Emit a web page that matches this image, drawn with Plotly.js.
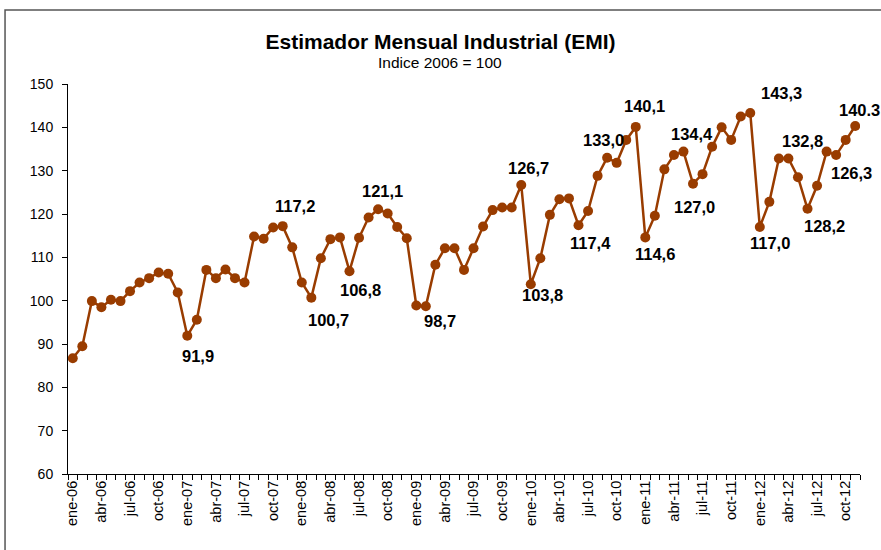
<!DOCTYPE html>
<html>
<head>
<meta charset="utf-8">
<script src="https://cdn.plot.ly/plotly-3.0.1.min.js"></script>
<style>html,body{margin:0;padding:0;background:#fff;}#chart{width:881px;height:550px;}</style>
</head>
<body>
<div id="chart"></div>
<script>
// ---- data ----
const monthNames = ["ene","feb","mar","abr","may","jun","jul","ago","sep","oct","nov","dic"];
const years = ["06","07","08","09","10","11","12"];
const emiValues = [
  86.7, 89.5, 99.9, 98.5, 100.2, 99.9, 102.2, 104.2, 105.2, 106.5, 106.2, 101.9,
  91.9, 95.6, 107.1, 105.2, 107.2, 105.2, 104.2, 114.8, 114.3, 116.9, 117.2, 112.3,
  104.2, 100.7, 109.8, 114.2, 114.6, 106.8, 114.5, 119.2, 121.1, 120.1, 117.0, 114.4,
  98.9, 98.7, 108.3, 112.1, 112.1, 107.1, 112.1, 117.1, 120.9, 121.5, 121.5, 126.7,
  103.8, 109.8, 119.8, 123.4, 123.6, 117.4, 120.7, 128.8, 133.0, 131.8, 137.1, 140.1,
  114.6, 119.6, 130.3, 133.6, 134.4, 127.0, 129.2, 135.5, 140.0, 137.1, 142.5, 143.3,
  117.0, 122.8, 132.8, 132.8, 128.5, 121.2, 126.5, 134.4, 133.6, 137.1, 140.3
];
const labelIndex = [12, 22, 25, 29, 32, 37, 47, 48, 53, 56, 59, 60, 64, 65, 71, 72, 75, 77, 80, 82];
const labelText  = ["91,9","117,2","100,7","106,8","121,1","98,7","126,7","103,8","117,4","133,0",
                    "140,1","114,6","134,4","127,0","143,3","117,0","132,8","128,2","126,3","140.3"];
const yTickVals = [60, 70, 80, 90, 100, 110, 120, 130, 140, 150];

// ---- layout tuning (pixel offsets of the data labels) ----
const labelOffsets = [[11,20],[12,-20],[17,22],[11,19],[4,-18],[14,15],[7,-17],[12,11],[12,18],[-4,-18],
                      [9,-21],[10,17],[9,-18],[1,23],[31,-20],[10,16],[14,-18],[17,17],[15,18],[4,-16]];

const categories = [];
years.forEach(y => monthNames.forEach(m => categories.push(m + "-" + y)));
const cats = categories.slice(0, emiValues.length);
const tickText = cats.map((c, i) => (i % 3 === 0 ? c : ""));

const color = "#993c00";
const FONT = "Arial, Liberation Sans, sans-serif";
const trace = {
  x: cats, y: emiValues, type: "scatter", mode: "lines+markers",
  line: {color: color, width: 2.5},
  marker: {color: color, size: 10, line: {width: 0}},
  hoverinfo: "x+y"
};

const annotations = labelIndex.map((idx, k) => ({
  x: cats[idx], y: emiValues[idx], xref: "x", yref: "y",
  text: labelText[k], showarrow: false,
  xanchor: "center", yanchor: "middle",
  xshift: labelOffsets[k][0], yshift: -labelOffsets[k][1],
  font: {family: FONT, size: 16.5, color: "#000", weight: "bold"}
}));
annotations.push({
  xref: "paper", yref: "paper", x: 0.47, y: 1.054, xanchor: "center", yanchor: "middle",
  text: "Indice 2006 = 100", showarrow: false,
  font: {family: FONT, size: 15.5, color: "#000"}
});

const layout = {
  width: 881, height: 550,
  margin: {l: 68, r: 21, t: 84, b: 76},
  paper_bgcolor: "#fff", plot_bgcolor: "#fff",
  showlegend: false,
  font: {family: FONT, color: "#000"},
  title: {
    text: "<b>Estimador Mensual Industrial (EMI)</b>",
    x: 0.5, xref: "container", xanchor: "center",
    y: 0.924, yref: "container", yanchor: "middle",
    font: {family: FONT, size: 21, color: "#000"}
  },
  xaxis: {
    type: "category",
    tickmode: "array", tickvals: cats, ticktext: tickText,
    tickson: "boundaries",
    ticks: "outside", ticklen: 5, tickcolor: "#000", tickwidth: 1,
    tickangle: -90,
    tickfont: {size: 14.5, color: "#000"},
    showline: true, linecolor: "#000", linewidth: 1,
    showgrid: false, zeroline: false,
    range: [-0.5, cats.length - 0.5]
  },
  yaxis: {
    range: [60, 150], tickmode: "array", tickvals: yTickVals,
    ticks: "outside", ticklen: 5, tickcolor: "#000", tickwidth: 1,
    ticklabelstandoff: 6,
    tickfont: {size: 14, color: "#000"},
    showline: true, linecolor: "#000", linewidth: 1,
    showgrid: false, zeroline: false
  },
  annotations: annotations,
  shapes: [{
    type: "rect", xref: "paper", yref: "paper",
    x0: -0.0795, x1: 1.05, y0: -0.3, y1: 1.19,
    line: {color: "#555", width: 1.5}, fillcolor: "rgba(0,0,0,0)", layer: "below"
  }]
};

Plotly.newPlot("chart", [trace], layout, {displayModeBar: false, staticPlot: true});
</script>
</body>
</html>
